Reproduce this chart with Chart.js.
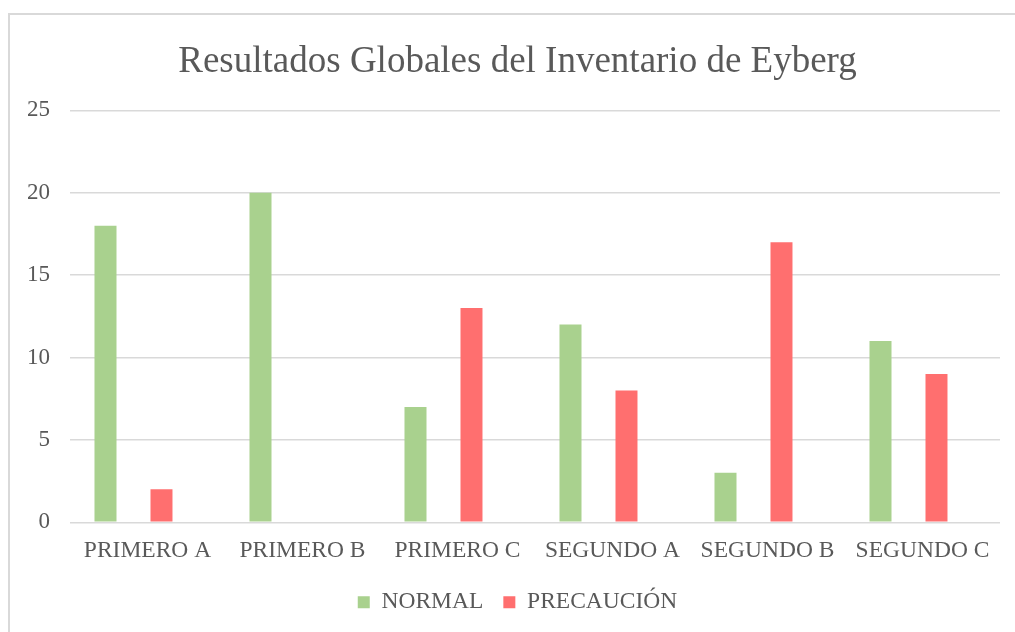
<!DOCTYPE html>
<html>
<head>
<meta charset="utf-8">
<script src="https://cdn.jsdelivr.net/npm/chart.js@4/dist/chart.umd.min.js"></script>
<style>
    html, body { margin: 0; padding: 0; background: #fff; overflow: hidden; }
    #frame {
        position: absolute; left: 8px; top: 13px; width: 1100px; height: 700px;
        border-left: 2px solid #d9d9d9; border-top: 2px solid #d9d9d9;
    }
    #chart { position: absolute; left: 0; top: 0; }
</style>
</head>
<body>
<div id="frame"></div>
<canvas id="chart" width="1030" height="632"></canvas>
<script>
const title = 'Resultados Globales del Inventario de Eyberg';
const grupos = ['PRIMERO A', 'PRIMERO B', 'PRIMERO C', 'SEGUNDO A', 'SEGUNDO B', 'SEGUNDO C'];
const normal = [18, 20, 7, 12, 3, 11];
const precaucion = [2, 0, 13, 8, 17, 9];
const yTicks = [0, 5, 10, 15, 20, 25];

const textColor = '#595959';
const gridColor = '#d9d9d9';
const serif = '"Liberation Serif", "Times New Roman", serif';

new Chart(document.getElementById('chart').getContext('2d'), {
    type: 'bar',
    data: {
        labels: grupos,
        datasets: [
            {
                label: 'NORMAL',
                data: normal,
                backgroundColor: '#a9d18e',
                // excel leaves the cluster off-centre, so each series gets its own slot width
                categoryPercentage: 1.084,
                barPercentage: 0.262
            },
            {
                label: 'PRECAUCIÓN',
                data: precaucion,
                backgroundColor: '#ff6f6f',
                categoryPercentage: 0.361,
                barPercentage: 0.786
            }
        ]
    },
    options: {
        responsive: false,
        animation: false,
        layout: {
            padding: { left: 8, right: 3, top: 13, bottom: 8 }
        },
        scales: {
            x: {
                grid: { display: false },
                border: { display: false },
                ticks: {
                    color: textColor,
                    font: { family: serif, size: 23.5 },
                    padding: 6,
                    maxRotation: 0
                }
            },
            y: {
                min: 0,
                max: 25,
                afterBuildTicks: axis => {
                    axis.ticks = yTicks.map(v => ({ value: v }));
                },
                afterFit: axis => {
                    axis.width = 62;
                },
                grid: {
                    color: gridColor,
                    lineWidth: 1.5,
                    drawTicks: false
                },
                border: { display: false },
                ticks: {
                    color: textColor,
                    font: { family: serif, size: 23 },
                    padding: 20
                }
            },
            // empty spacer on the right so title and legend centre like in excel
            spacer: {
                type: 'linear',
                position: 'right',
                grid: { display: false },
                border: { display: false },
                ticks: { display: false },
                afterFit: axis => {
                    axis.width = 27;
                }
            }
        },
        plugins: {
            title: {
                display: true,
                text: title,
                color: textColor,
                font: { family: serif, size: 37, weight: 'normal' },
                padding: { top: 27, bottom: 26 }
            },
            legend: {
                position: 'bottom',
                labels: {
                    color: textColor,
                    font: { family: serif, size: 23.5 },
                    boxWidth: 12,
                    boxHeight: 12,
                    padding: 20
                }
            },
            tooltip: { enabled: false }
        }
    }
});
</script>
</body>
</html>
